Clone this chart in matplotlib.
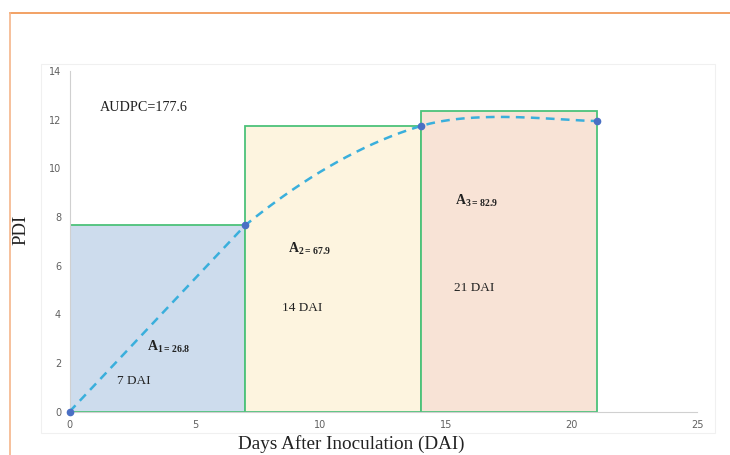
import numpy as np
import matplotlib
matplotlib.use("Agg")
import matplotlib.pyplot as plt
from matplotlib.patches import Rectangle
from matplotlib.lines import Line2D

# data
dai = [0, 7, 14, 21]
pdi = [0, 7.66, 11.74, 11.95]
rect_left = [0, 7, 14]
rect_width = [7, 7, 7]
rect_height = [7.66, 11.74, 12.35]
rect_colors = ['#cddced', '#fdf4df', '#f8e3d6']
area_labels = ['1= 26.8', '2= 67.9', '3=82.9']
day_labels = ['7 DAI', '14 DAI', '21 DAI']
audpc = 177.6

plt.rcParams['mathtext.fontset'] = 'custom'
plt.rcParams['mathtext.rm'] = 'Liberation Serif'
plt.rcParams['mathtext.bf'] = 'Liberation Serif:bold'

fig = plt.figure(figsize=(7.3, 4.55), dpi=100)

# orange frame on top/left edge
fig.add_artist(Line2D([9.5/730, 1], [1 - 12.5/455, 1 - 12.5/455], color='#f0914a', lw=1.2))
fig.add_artist(Line2D([9.5/730, 9.5/730], [0, 1 - 12.5/455], color='#f5b58a', lw=1.2))
# faint chart area border
fig.add_artist(Rectangle((41/730, 1 - 433/455), (715-41)/730, (433-64)/455,
                         fill=False, edgecolor='#f0f0f0', lw=0.8))

ax = fig.add_axes([69.5/730, 1 - 411.7/455, (697-69.5)/730, (411.7-71)/455])
ax.set_xlim(0, 25)
ax.set_ylim(0, 14)

for i in range(3):
    ax.add_patch(Rectangle((rect_left[i], 0), rect_width[i], rect_height[i],
                           facecolor=rect_colors[i], edgecolor='#4cc27a', lw=1.3, zorder=2))

# first piece is straight, the rest smoothed (bezier through the points)
P = np.array(list(zip(dai, pdi)), dtype=float)
xs, ys = [], []
t = np.linspace(0, 1, 60)
for i in range(len(P) - 1):
    p1, p2 = P[i], P[i + 1]
    if i == 0:
        c1 = p1 + (p2 - p1) / 3
        c2 = p2 - (p2 - p1) / 3
    else:
        p0 = P[i - 1]
        p3 = P[i + 2] if i + 2 < len(P) else P[i + 1]
        c1 = p1 + (p2 - p0) / 6
        c2 = p2 - (p3 - p1) / 6
    b = ((1-t)**3)[:, None]*p1 + (3*(1-t)**2*t)[:, None]*c1 + (3*(1-t)*t**2)[:, None]*c2 + (t**3)[:, None]*p2
    xs.extend(b[:, 0]); ys.extend(b[:, 1])
ax.plot(xs, ys, color='#3aafdc', lw=1.8, ls=(0, (3.5, 2.5)), zorder=3)
ax.plot(dai, pdi, 'o', color='#4a6fc4', ms=4.5, zorder=4, clip_on=False)

for s in ['top', 'right']:
    ax.spines[s].set_visible(False)
for s in ['left', 'bottom']:
    ax.spines[s].set_color('#d0d0d0')
ax.set_xticks([0, 5, 10, 15, 20, 25])
ax.set_yticks(range(0, 15, 2))
ax.tick_params(length=0, labelsize=7, labelcolor='#606060', pad=6)

serif = 'Liberation Serif'
fig.text(351/730, 1 - 444/455, 'Days After Inoculation (DAI)', fontsize=13.8, family=serif,
         color='#222222', ha='center', va='center')
fig.text(21/730, 1 - 230/455, 'PDI', rotation=90, fontsize=13.5, family=serif,
         color='#222222', ha='center', va='center')

ax.text(1.2, 12.5, 'AUDPC=%.1f' % audpc, fontsize=10.2, family=serif, va='center', color='#222222')

area_pos = [(3.1, 2.65), (8.7, 6.7), (15.35, 8.65)]
day_pos = [(1.9, 1.25), (8.45, 4.25), (15.3, 5.1)]
for i in range(3):
    ax.text(area_pos[i][0], area_pos[i][1], r'$\mathbf{A}_{\mathbf{%s}}$' % area_labels[i],
            fontsize=10, va='center', color='#222222', zorder=5)
    ax.text(day_pos[i][0], day_pos[i][1], day_labels[i], fontsize=9.5, family=serif,
            va='center', color='#222222', zorder=5)

fig.savefig('out.png', dpi=100)
